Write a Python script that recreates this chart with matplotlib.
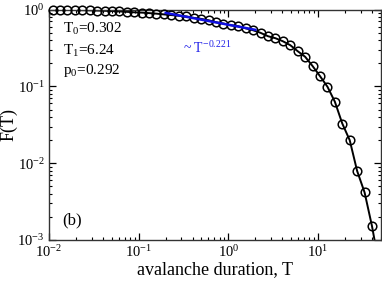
import matplotlib
matplotlib.use("Agg")
import matplotlib.pyplot as plt
from matplotlib.ticker import LogLocator, NullFormatter

plt.rcParams['font.family'] = ['Liberation Serif', 'DejaVu Serif']
plt.rcParams['mathtext.fontset'] = 'custom'
plt.rcParams['mathtext.rm'] = 'Liberation Serif'
plt.rcParams['mathtext.it'] = 'Liberation Serif:italic'

T = [0.0110, 0.0133, 0.0161, 0.0194, 0.0235, 0.0284, 0.0344, 0.0417, 0.0504,
     0.0610, 0.0738, 0.0893, 0.108, 0.131, 0.158, 0.191, 0.232, 0.280, 0.339,
     0.410, 0.497, 0.601, 0.727, 0.880, 1.065, 1.288, 1.559, 1.887, 2.283,
     2.763, 3.343, 4.045, 4.895, 5.923, 7.167, 8.673, 10.49, 12.70, 15.36,
     18.59, 22.50, 27.22, 32.94, 39.86]
F = [0.995, 0.993, 0.990, 0.987, 0.983, 0.978, 0.972, 0.965, 0.957,
     0.947, 0.935, 0.922, 0.913, 0.900, 0.885, 0.866, 0.848, 0.832, 0.815,
     0.780, 0.757, 0.726, 0.684, 0.658, 0.625, 0.607, 0.571, 0.538, 0.498,
     0.450, 0.424, 0.387, 0.344, 0.287, 0.243, 0.184, 0.136, 0.099, 0.0632,
     0.0328, 0.0199, 0.0079, 0.00416, 0.00151]

# fitted curve (solid black)
fit_T = [0.0100] + T + [44.0]
fit_F = [0.996] + F + [0.0008]

# power-law guide (blue)
pl_T = [0.20, 2.0]
pl_F = [0.905, 0.545]

fig = plt.figure(figsize=(3.82, 2.82), dpi=100)
ax = fig.add_axes([0.128, 0.149, 0.869, 0.817])

ax.plot(fit_T, fit_F, color='black', lw=1.4, zorder=2)
ax.plot(T, F, 'o', mfc='none', mec='black', ms=6.2, mew=1.1, clip_on=False, zorder=3)
ax.plot(pl_T, pl_F, color='#1010e0', lw=1.8, zorder=4)

ax.set_xscale('log')
ax.set_yscale('log')
ax.set_xlim(0.01, 50)
ax.set_ylim(1e-3, 1)

ax.xaxis.set_major_locator(LogLocator(base=10, numticks=10))
ax.xaxis.set_minor_locator(LogLocator(base=10, subs=range(2, 10), numticks=20))
ax.yaxis.set_major_locator(LogLocator(base=10, numticks=10))
ax.yaxis.set_minor_locator(LogLocator(base=10, subs=range(2, 10), numticks=20))
ax.xaxis.set_minor_formatter(NullFormatter())
ax.yaxis.set_minor_formatter(NullFormatter())

ax.tick_params(which='both', direction='in', top=True, right=True, labelsize=10.5)
ax.tick_params(which='major', length=5, width=0.9, pad=3)
ax.tick_params(which='minor', length=2.5, width=0.8)
for s in ax.spines.values():
    s.set_linewidth(1.0)
    s.set_color('#333333')

ax.set_xlabel('avalanche duration, T', fontsize=13, labelpad=1)
ax.set_ylabel('F(T)', fontsize=13, labelpad=0)

ax.text(0.0144, 0.50, r'T$_0$=0.302', fontsize=11)
ax.text(0.0144, 0.26, r'T$_1$=6.24', fontsize=11)
ax.text(0.0144, 0.143, r'p$_0$=0.292', fontsize=11)
ax.text(0.31, 0.27, r'~ T$^{-0.221}$', fontsize=10, color='#2020e8')
ax.text(0.0140, 0.0016, '(b)', fontsize=12)

fig.savefig('out.png', dpi=100)
